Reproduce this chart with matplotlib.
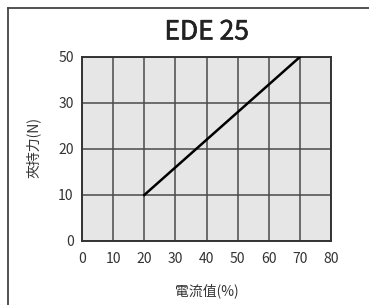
import numpy as np
import matplotlib
matplotlib.use("Agg")
import matplotlib.pyplot as plt
import matplotlib.patheffects as pe
from matplotlib.lines import Line2D

plt.rcParams['font.family'] = ['Noto Sans CJK TC', 'DejaVu Sans']

# data
current = [20, 70]            # 電流值 (%)
force = [10, 50]              # 夾持力 (N)
x_ticks = [0, 10, 20, 30, 40, 50, 60, 70, 80]
y_tick_values = [0, 10, 20, 30, 50]   # labels on the y axis are evenly spaced

title = "EDE 25"
x_label = "電流值(%)"
y_label = "夾持力(N)"

fig = plt.figure(figsize=(3.69, 3.05), dpi=100)
ax = fig.add_axes([82 / 369, 1 - 241 / 305, 249 / 369, 184 / 305])

# the y axis is a band scale: each labelled value gets one equal step
y_pos = np.arange(len(y_tick_values))
ax.plot(current, np.interp(force, y_tick_values, y_pos), color='black', lw=1.8, zorder=3)

ax.set_facecolor('#e6e6e7')
ax.set_xlim(x_ticks[0], x_ticks[-1])
ax.set_ylim(y_pos[0], y_pos[-1])
ax.set_xticks(x_ticks)
ax.set_xticklabels([str(v) for v in x_ticks])
ax.set_yticks(y_pos)
ax.set_yticklabels([str(v) for v in y_tick_values])
ax.grid(True, color='#4a4a4a', lw=1.1)
ax.set_axisbelow(True)
ax.tick_params(length=0, labelsize=10, labelcolor='#333333')
ax.tick_params(axis='x', pad=8)
ax.tick_params(axis='y', pad=6)
for s in ax.spines.values():
    s.set_color('#333333')
    s.set_linewidth(1.4)

fig.text(206.5 / 369, 1 - 32 / 305, title, ha='center', va='center',
         fontsize=19, color='#222222',
         path_effects=[pe.withStroke(linewidth=0.45, foreground='#222222')])
fig.text(206.5 / 369, 1 - 291 / 305, x_label, ha='center', va='center',
         fontsize=10, color='#333333')
fig.text(33 / 369, 1 - 147 / 305, y_label, ha='center', va='center',
         fontsize=10, color='#333333', rotation=90)

# frame on the top and left edges only
fig.add_artist(Line2D([8 / 369, 8 / 369], [0, 1 - 8 / 305], transform=fig.transFigure,
                      color='#444444', lw=1.3))
fig.add_artist(Line2D([8 / 369, 1], [1 - 8 / 305, 1 - 8 / 305], transform=fig.transFigure,
                      color='#444444', lw=1.3))

fig.savefig("out.png", dpi=100)
